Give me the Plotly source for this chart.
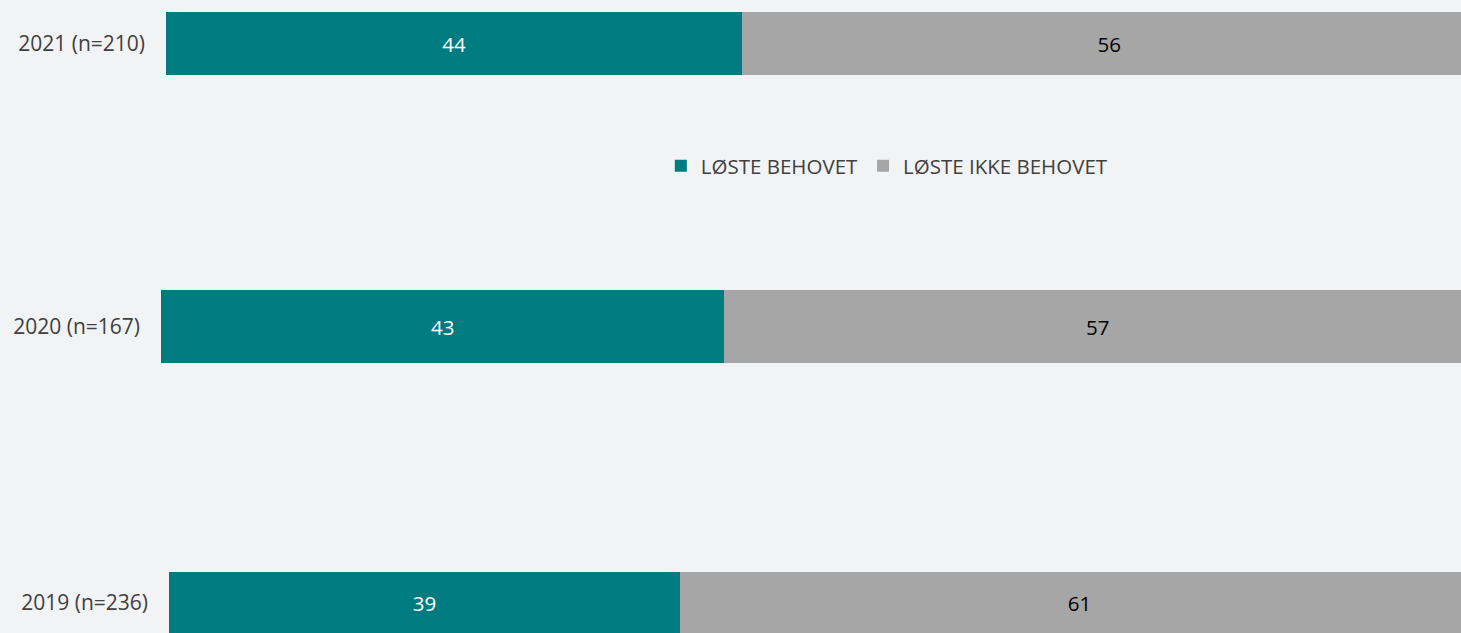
import plotly.graph_objects as go

years = ["2021 (n=210)", "2020 (n=167)", "2019 (n=236)"]
solved = [44, 43, 39]
not_solved = [56, 57, 61]
series_names = ["LØSTE BEHOVET", "LØSTE IKKE BEHOVET"]
colors = ["#007C80", "#A6A6A6"]
text_colors = ["white", "black"]

W, H = 1461, 633
FONT = "Open Sans"
FULL = 1310  # px length of a full 100% bar (extends past the right edge)
# per-row layout: (left px, top px, bottom px)
rows = [(166, 12, 75), (161, 290, 363), (169, 572, 633)]

fig = go.Figure()
for i, (lbl, a, b) in enumerate(zip(years, solved, not_solved)):
    suffix = "" if i == 0 else str(i + 1)
    for j, (val, name) in enumerate(zip([a, b], series_names)):
        fig.add_trace(go.Bar(
            x=[val], y=[lbl], orientation="h", name=name,
            marker=dict(color=colors[j], line=dict(width=0)),
            text=[str(val)], textposition="inside", insidetextanchor="middle",
            textfont=dict(color=text_colors[j], size=20.5, family=FONT),
            width=1, showlegend=(i == 0), legendgroup=name,
            xaxis="x" + suffix, yaxis="y" + suffix, hoverinfo="skip",
        ))
    left, top, bottom = rows[i]
    xd = [left / W, 1]
    yd = [1 - bottom / H, 1 - top / H]
    xmax = 100 * (W - left) / FULL
    fig.layout["xaxis" + suffix] = dict(domain=xd, range=[0, xmax], visible=False,
                                        anchor="y" + suffix, fixedrange=True)
    fig.layout["yaxis" + suffix] = dict(domain=yd, range=[-0.5, 0.5], anchor="x" + suffix,
                                        showgrid=False, zeroline=False, showline=False,
                                        ticks="", ticklabelstandoff=20, fixedrange=True,
                                        tickfont=dict(size=21, family=FONT, color="#404040"))

fig.update_layout(
    barmode="stack",
    width=W, height=H,
    margin=dict(l=0, r=0, t=0, b=0),
    paper_bgcolor="#F2F3F5", plot_bgcolor="#F2F3F5",
    font=dict(family=FONT, color="#404040"),
    legend=dict(orientation="h", x=0.607, xanchor="center", y=1 - 166 / H, yanchor="middle",
                font=dict(size=20.5, family=FONT, color="#404040"), bgcolor="rgba(0,0,0,0)",
                traceorder="normal"),
    showlegend=True,
)
fig.write_html("out.html", config={"displayModeBar": False},
               post_script="document.body.style.margin='0';document.body.style.background='#F2F3F5';")
